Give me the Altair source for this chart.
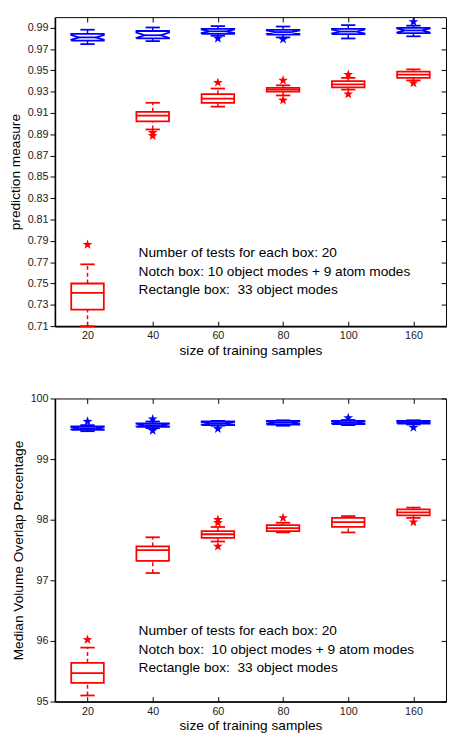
import json
import math
import altair as alt
import pandas as pd

categories = ["20", "40", "60", "80", "100", "160"]

# ---------------- top panel: prediction measure ----------------
top_notch_wlo = [0.9747, 0.9775, 0.9825, 0.9810, 0.9800, 0.9820]
top_notch_q1 = [0.9780, 0.9800, 0.9843, 0.9837, 0.9840, 0.9850]
top_notch_med = [0.9810, 0.9830, 0.9867, 0.9860, 0.9865, 0.9875]
top_notch_q3 = [0.9843, 0.9870, 0.9890, 0.9880, 0.9890, 0.9900]
top_notch_whi = [0.9882, 0.9903, 0.9916, 0.9912, 0.9925, 0.9920]
top_notch_out_cat = ["60", "80", "160"]
top_notch_out_val = [0.9801, 0.9792, 0.9955]

top_rect_wlo = [0.7100, 0.8946, 0.9160, 0.9265, 0.9320, 0.9406]
top_rect_q1 = [0.7254, 0.9021, 0.9196, 0.9300, 0.9340, 0.9430]
top_rect_med = [0.7413, 0.9076, 0.9235, 0.9320, 0.9370, 0.9460]
top_rect_q3 = [0.7500, 0.9112, 0.9277, 0.9337, 0.9400, 0.9488]
top_rect_whi = [0.7680, 0.9196, 0.9330, 0.9360, 0.9430, 0.9510]
top_rect_out_cat = ["20", "40", "40", "60", "80", "80", "100", "100", "160"]
top_rect_out_val = [0.7865, 0.8916, 0.8886, 0.9386, 0.9406, 0.9220, 0.9460, 0.9277, 0.9380]

top_ticks = [0.71, 0.73, 0.75, 0.77, 0.79, 0.81, 0.83, 0.85, 0.87, 0.89,
             0.91, 0.93, 0.95, 0.97, 0.99]
top_domain = [0.71, 1.0]

# ---------------- bottom panel: median volume overlap ----------------
bot_notch_wlo = [99.46, 99.51, 99.55, 99.55, 99.56, 99.57]
bot_notch_q1 = [99.48, 99.53, 99.56, 99.57, 99.575, 99.585]
bot_notch_med = [99.51, 99.56, 99.59, 99.60, 99.60, 99.61]
bot_notch_q3 = [99.54, 99.59, 99.62, 99.63, 99.63, 99.63]
bot_notch_whi = [99.56, 99.62, 99.63, 99.64, 99.645, 99.64]
bot_notch_out_cat = ["20", "40", "40", "60", "100", "160"]
bot_notch_out_val = [99.62, 99.66, 99.47, 99.50, 99.68, 99.52]

bot_rect_wlo = [95.10, 97.12, 97.64, 97.79, 97.79, 98.03]
bot_rect_q1 = [95.31, 97.32, 97.70, 97.81, 97.88, 98.07]
bot_rect_med = [95.47, 97.50, 97.76, 97.86, 97.96, 98.12]
bot_rect_q3 = [95.64, 97.56, 97.81, 97.91, 98.03, 98.17]
bot_rect_whi = [95.89, 97.71, 97.88, 97.95, 98.06, 98.20]
bot_rect_out_cat = ["20", "60", "60", "60", "80", "160"]
bot_rect_out_val = [96.02, 98.00, 97.95, 97.56, 98.03, 97.96]

bot_ticks = [95, 96, 97, 98, 99, 100]
bot_domain = [95, 100]

note_lines_top = ["Number of tests for each box: 20",
                  "Notch box: 10 object modes + 9 atom modes",
                  "Rectangle box:\u00a0 33 object modes"]
note_lines_bot = ["Number of tests for each box: 20",
                  "Notch box:\u00a0 10 object modes + 9 atom modes",
                  "Rectangle box:\u00a0 33 object modes"]

FONT = "Liberation Sans"
BLUE = "#0000ff"
RED = "#ff0000"
BOX_W = 0.25
NOTCH_W = 0.125
CAP_W = 0.11
N_TESTS = 20

star_pts = []
for k in range(10):
    r = 1.0 if k % 2 == 0 else 0.4
    a = -math.pi / 2 + k * math.pi / 5
    star_pts.append(f"{r * math.cos(a):.3f},{r * math.sin(a):.3f}")
STAR = "M" + " L".join(star_pts) + " Z"

label_expr = json.dumps(categories) + "[datum.value - 1]"
pos_values = list(range(1, len(categories) + 1))


def box_df(wlo, q1, med, q3, whi, group):
    return pd.DataFrame({
        "idx": pos_values, "wlo": wlo, "q1": q1, "med": med, "q3": q3,
        "whi": whi, "group": group,
    })


def notch_df(b):
    rows = []
    for _, r in b.iterrows():
        n = 1.57 * (r.q3 - r.q1) / math.sqrt(N_TESTS)
        verts = [(-BOX_W, r.q1), (-BOX_W, r.med - n), (-NOTCH_W, r.med),
                 (-BOX_W, r.med + n), (-BOX_W, r.q3), (BOX_W, r.q3),
                 (BOX_W, r.med + n), (NOTCH_W, r.med), (BOX_W, r.med - n),
                 (BOX_W, r.q1), (-BOX_W, r.q1)]
        for k, (dx, y) in enumerate(verts):
            rows.append({"idx": r.idx, "k": k, "px": r.idx + dx, "y": y,
                         "group": r.group})
    return pd.DataFrame(rows)


def out_df(cats, vals, group):
    return pd.DataFrame({"idx": [categories.index(c) + 1 for c in cats],
                         "val": vals, "group": group})


color = alt.Color("group:N", scale=alt.Scale(domain=["notch", "rect"],
                                             range=[BLUE, RED]), legend=None)


def panel(nb, rb, nout, rout, ydomain, yticks, yfmt, ytitle, height,
          note_lines, note_y):
    xs = alt.Scale(domain=[0.5, 6.5], nice=False, zero=False)
    ys = alt.Scale(domain=ydomain, nice=False, zero=False)
    boxes = pd.concat([nb, rb], ignore_index=True)

    def X(field, axis=None):
        return alt.X(field, scale=xs, axis=axis)

    def Y(field, axis=None):
        return alt.Y(field, scale=ys, axis=axis)

    main_x_axis = alt.Axis(values=pos_values, labelExpr=label_expr, ticks=False,
                           grid=False, title="size of training samples",
                           labelPadding=4, titlePadding=3, labelFontSize=11,
                           titleFontSize=14, domainWidth=1.6)
    main_y_axis = alt.Axis(values=yticks, format=yfmt, tickSize=5, grid=False,
                           title=ytitle, labelPadding=2, titlePadding=5,
                           labelFontSize=11, titleFontSize=14, domainWidth=1.6)
    top_tick_axis = alt.Axis(orient="top", offset=-5, values=pos_values,
                             labels=False, domain=False, title=None,
                             tickSize=5, grid=False)
    right_tick_axis = alt.Axis(orient="right", offset=-5, values=yticks,
                               labels=False, domain=False, title=None,
                               tickSize=5, grid=False)
    bottom_tick_axis = alt.Axis(orient="bottom", offset=-5, values=pos_values,
                                labels=False, domain=False, title=None,
                                tickSize=5, grid=False)

    rect_boxes = alt.Chart(rb).transform_calculate(
        xa=f"datum.idx - {BOX_W}", xb=f"datum.idx + {BOX_W}"
    ).mark_rect(filled=False, strokeWidth=1.8).encode(
        x=X("xa:Q", main_x_axis), x2="xb:Q",
        y=Y("q1:Q", main_y_axis), y2="q3:Q", stroke=color)

    whisk_lo = alt.Chart(boxes).mark_rule(strokeDash=[4, 3], strokeWidth=1.5).encode(
        x=X("idx:Q", top_tick_axis), y=Y("wlo:Q", right_tick_axis), y2="q1:Q",
        color=color)
    whisk_hi = alt.Chart(boxes).mark_rule(strokeDash=[4, 3], strokeWidth=1.5).encode(
        x=X("idx:Q", bottom_tick_axis), y=Y("q3:Q"), y2="whi:Q", color=color)

    caps = alt.Chart(boxes).transform_fold(["wlo", "whi"], as_=["end", "v"]).transform_calculate(
        xa=f"datum.idx - {CAP_W}", xb=f"datum.idx + {CAP_W}"
    ).mark_rule(strokeWidth=1.8).encode(
        x=X("xa:Q"), x2="xb:Q", y=Y("v:Q"), color=color)

    rect_med = alt.Chart(rb).transform_calculate(
        xa=f"datum.idx - {BOX_W}", xb=f"datum.idx + {BOX_W}"
    ).mark_rule(strokeWidth=1.8).encode(
        x=X("xa:Q"), x2="xb:Q", y=Y("med:Q"), color=color)

    notch_shape = alt.Chart(notch_df(nb)).mark_line(strokeWidth=1.8).encode(
        x=X("px:Q"), y=Y("y:Q"), detail="idx:N", order="k:Q", color=color)

    notch_med = alt.Chart(nb).transform_calculate(
        xa=f"datum.idx - {NOTCH_W}", xb=f"datum.idx + {NOTCH_W}"
    ).mark_rule(strokeWidth=1.8).encode(
        x=X("xa:Q"), x2="xb:Q", y=Y("med:Q"), color=color)

    stars = alt.Chart(pd.concat([nout, rout], ignore_index=True)).mark_point(
        shape=STAR, filled=True, size=110, opacity=1).encode(
        x=X("idx:Q"), y=Y("val:Q"), color=color)

    note = alt.Chart(pd.DataFrame({"x": [1.784], "y": [note_y],
                                   "t": [note_lines]})).mark_text(
        align="left", baseline="middle", fontSize=14, lineHeight=19,
        font=FONT, color="black").encode(
        x=X("x:Q"), y=Y("y:Q"), text="t")

    return alt.layer(rect_boxes, whisk_lo, whisk_hi, caps, rect_med,
                     notch_shape, notch_med, stars, note).resolve_axis(
        x="independent", y="independent").properties(width=400, height=height)


top = panel(
    box_df(top_notch_wlo, top_notch_q1, top_notch_med, top_notch_q3, top_notch_whi, "notch"),
    box_df(top_rect_wlo, top_rect_q1, top_rect_med, top_rect_q3, top_rect_whi, "rect"),
    out_df(top_notch_out_cat, top_notch_out_val, "notch"),
    out_df(top_rect_out_cat, top_rect_out_val, "rect"),
    top_domain, top_ticks, ".2f", "prediction measure", 316,
    note_lines_top, 0.7786)

bottom = panel(
    box_df(bot_notch_wlo, bot_notch_q1, bot_notch_med, bot_notch_q3, bot_notch_whi, "notch"),
    box_df(bot_rect_wlo, bot_rect_q1, bot_rect_med, bot_rect_q3, bot_rect_whi, "rect"),
    out_df(bot_notch_out_cat, bot_notch_out_val, "notch"),
    out_df(bot_rect_out_cat, bot_rect_out_val, "rect"),
    bot_domain, bot_ticks, "d", "Median Volume Overlap Percentage", 310,
    note_lines_bot, 96.16)

chart = alt.vconcat(top, bottom, spacing=34).properties(padding=0).configure_view(
    stroke="black", strokeWidth=1).configure_axis(
    grid=False, domainColor="black", tickColor="black", labelColor="#222222",
    titleColor="black", labelFont=FONT, titleFont=FONT, titleFontWeight="normal")

chart.save("out.html", embed_options={"renderer": "svg", "actions": False})
